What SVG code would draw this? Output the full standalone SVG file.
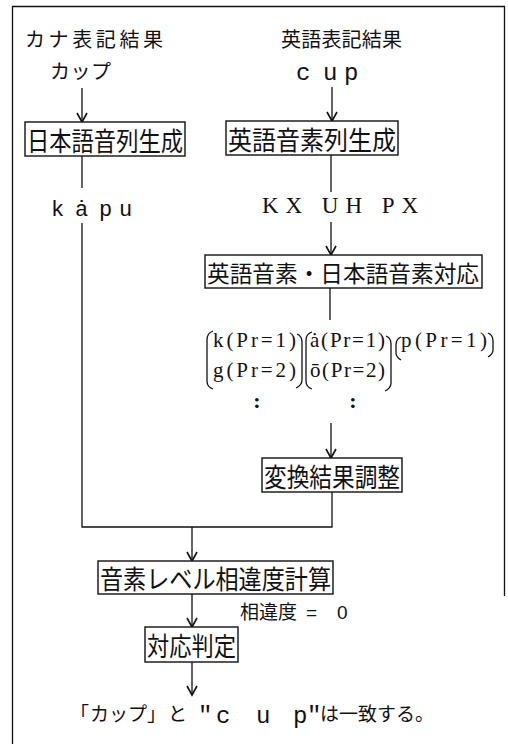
<svg xmlns="http://www.w3.org/2000/svg" width="508" height="744" viewBox="0 0 508 744">
<defs>
<marker id="ah" viewBox="-11 -7 13 14" refX="0" refY="0" markerWidth="13" markerHeight="14" markerUnits="userSpaceOnUse" orient="auto">
<path d="M-9,-5 L0,0 L-9,5" fill="none" stroke="#111" stroke-width="1.6"/>
</marker>
<style>
.box{fill:#fff;stroke:#111;stroke-width:1.4}
.ln{fill:none;stroke:#111;stroke-width:1.3}
.br{fill:none;stroke:#111;stroke-width:1.3}
.jp{font-family:"Noto Sans CJK JP","Noto Sans CJK SC",sans-serif;fill:#111}
.lbl{font-size:26px;dominant-baseline:central}
.hd{font-size:20px}
.mono{font-family:"Liberation Mono","DejaVu Sans Mono",monospace;fill:#111}
.ser{font-family:"Liberation Serif","DejaVu Serif",serif;fill:#111}
</style>
</defs>
<rect width="508" height="744" fill="#fff"/>
<path d="M12.5,760 L12.5,6.5 L504.5,6.5 L504.5,596" class="ln"/>

<g id="connectors">
<line class="ln" x1="82" y1="88" x2="82" y2="122" marker-end="url(#ah)"/>
<line class="ln" x1="332" y1="87" x2="332" y2="121" marker-end="url(#ah)"/>
<line class="ln" x1="82" y1="156" x2="82" y2="188"/>
<polyline class="ln" points="82,223 82,527 332,527 332,492"/>
<line class="ln" x1="331" y1="155" x2="331" y2="192"/>
<line class="ln" x1="331" y1="222" x2="331" y2="255" marker-end="url(#ah)"/>
<line class="ln" x1="330" y1="288" x2="330" y2="320"/>
<line class="ln" x1="331" y1="423" x2="331" y2="458" marker-end="url(#ah)"/>
<line class="ln" x1="192" y1="527" x2="192" y2="561" marker-end="url(#ah)"/>
<line class="ln" x1="192" y1="594" x2="192" y2="627" marker-end="url(#ah)"/>
<line class="ln" x1="192" y1="662" x2="192" y2="695" marker-end="url(#ah)"/>
</g>

<g id="kana-header"><text class="jp hd" x="25" y="47" textLength="138" lengthAdjust="spacing">カナ表記結果</text></g>
<g id="eng-header"><text class="jp hd" x="281" y="47" textLength="121" lengthAdjust="spacing">英語表記結果</text></g>
<g id="kana-input"><text class="jp hd" x="50" y="79" textLength="61" lengthAdjust="spacing">カップ</text></g>
<g id="eng-input"><text class="mono" font-size="24" y="80"><tspan x="296">c</tspan><tspan x="323">u</tspan><tspan x="344">p</tspan></text></g>

<g id="jp-seq-gen">
<rect class="box" x="25" y="122" width="160" height="34"/>
<text class="jp lbl" x="27" y="139" textLength="156" lengthAdjust="spacingAndGlyphs">日本語音列生成</text>
</g>
<g id="eng-seq-gen">
<rect class="box" x="226" y="121" width="172" height="34"/>
<text class="jp lbl" x="228" y="138" textLength="168" lengthAdjust="spacingAndGlyphs">英語音素列生成</text>
</g>

<g id="kapu"><text class="mono" font-size="22" y="216"><tspan x="51">k</tspan><tspan x="75">ȧ</tspan><tspan x="99">p</tspan><tspan x="119">u</tspan></text></g>
<g id="eng-phonemes"><text class="ser" font-size="23" x="262" y="213" textLength="156" lengthAdjust="spacing">KX UH PX</text></g>

<g id="phoneme-map">
<rect class="box" x="205" y="255" width="277" height="33"/>
<text class="jp" font-size="23" dominant-baseline="central" x="207" y="271.5" textLength="272" lengthAdjust="spacingAndGlyphs">英語音素・日本語音素対応</text>
</g>

<g id="candidates">
<path class="br" d="M213,331 Q207,333 207,340 L207,381 Q207,387 213,389"/>
<path class="br" d="M297,334 Q302,336 302,342 L302,380 Q302,385 296,388"/>
<path class="br" d="M312,332 Q306,334 306,340 L306,381 Q306,387 312,389"/>
<path class="br" d="M386,336 Q391,338 391,344 L391,383 Q391,388 385,391"/>
<path class="br" d="M401,337 Q396,339 396,345 L396,353 Q396,357 401,360"/>
<path class="br" d="M488,333 Q493,335 493,341 L493,350 Q493,354 488,357"/>
<text class="ser" font-size="21" x="213" y="347" textLength="83" lengthAdjust="spacing">k(Pr=1)</text>
<text class="ser" font-size="21" x="213" y="377" textLength="83" lengthAdjust="spacing">g(Pr=2)</text>
<text class="ser" font-size="21" x="310" y="347" textLength="75" lengthAdjust="spacing">ȧ(Pr=1)</text>
<text class="ser" font-size="21" x="310" y="377" textLength="75" lengthAdjust="spacing">ō(Pr=2)</text>
<text class="ser" font-size="21" x="401" y="347" textLength="86" lengthAdjust="spacing">p(Pr=1)</text>
<text class="ser" font-size="22" font-weight="bold" x="257" y="408" text-anchor="middle">:</text>
<text class="ser" font-size="22" font-weight="bold" x="353" y="408" text-anchor="middle">:</text>
</g>

<g id="adjust">
<rect class="box" x="262" y="458" width="140" height="34"/>
<text class="jp lbl" x="264" y="475" textLength="136" lengthAdjust="spacingAndGlyphs">変換結果調整</text>
</g>

<g id="distance-calc">
<rect class="box" x="98" y="561" width="235" height="33"/>
<text class="jp lbl" x="100" y="577.5" textLength="231" lengthAdjust="spacingAndGlyphs">音素レベル相違度計算</text>
</g>

<g id="distance-value"><text class="jp" font-size="19" y="619"><tspan x="240">相違度</tspan><tspan x="306" font-family="Liberation Sans, sans-serif" font-size="19">=</tspan><tspan x="337" font-family="Liberation Sans, sans-serif" font-size="19">0</tspan></text></g>

<g id="judge">
<rect class="box" x="145" y="627" width="93" height="35"/>
<text class="jp lbl" x="147" y="644.5" textLength="89" lengthAdjust="spacingAndGlyphs">対応判定</text>
</g>

<g id="result">
<text class="jp" font-size="19" y="721"><tspan x="70">「</tspan><tspan x="90">カップ</tspan><tspan x="147">」</tspan><tspan x="168">と</tspan></text>
<text class="mono" font-size="24" y="723"><tspan x="198">"</tspan><tspan x="216">c</tspan><tspan x="256">u</tspan><tspan x="293">p</tspan><tspan x="307">"</tspan></text>
<text class="jp" font-size="19" x="320" y="721" textLength="114" lengthAdjust="spacing">は一致する。</text>
</g>
</svg>
